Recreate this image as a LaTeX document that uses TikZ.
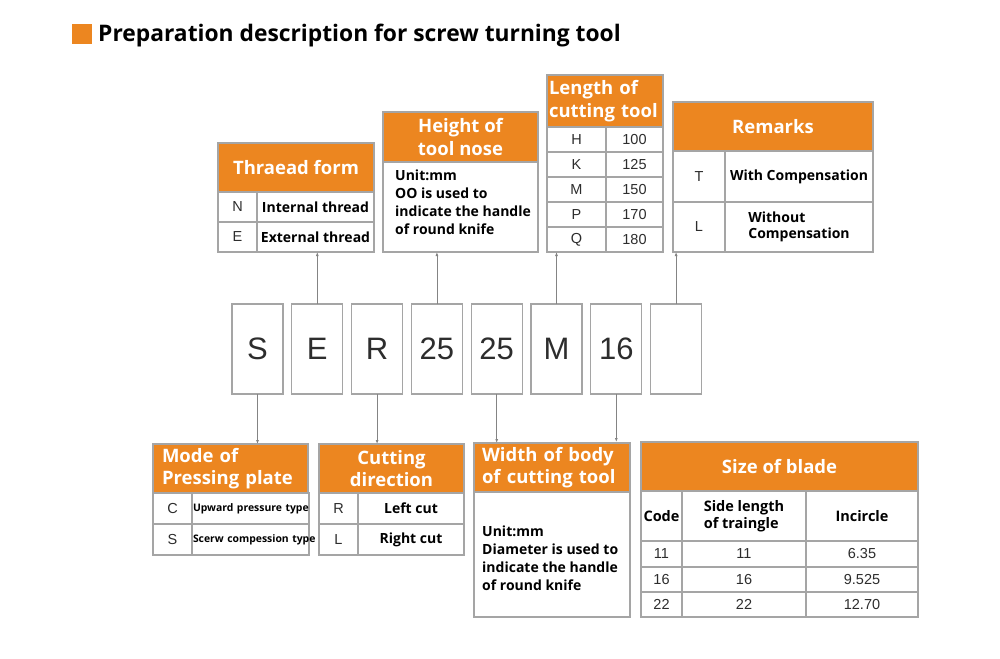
\documentclass[tikz,border=0pt]{standalone}
\usepackage{fontspec}
\setmainfont{Open Sans}
\newfontfamily\arial{Liberation Sans}
\usetikzlibrary{positioning, arrows.meta}

\definecolor{orng}{RGB}{236,134,32}
\definecolor{rule}{RGB}{165,165,165}
\definecolor{ink}{RGB}{45,45,45}

\begin{document}
\begin{tikzpicture}[
    x=1pt, y=-1pt,
    >={Latex[length=4pt,width=3pt]},
    codebox/.style={draw=rule, line width=1.2pt, fill=white, minimum width=51pt, minimum height=90pt, inner sep=0pt, outer sep=0pt, font=\arial\fontsize{31}{31}\selectfont, text=ink},
    hdr/.style={draw=rule, line width=1.2pt, fill=orng, text=white, anchor=north west, inner sep=0pt, outer sep=0pt, align=center, font=\bfseries\fontsize{18.5}{22.5}\selectfont},
    cell/.style={draw=rule, line width=1.2pt, fill=white, anchor=north west, inner sep=0pt, outer sep=0pt, text=ink, font=\arial\fontsize{14.5}{16}\selectfont},
    desc/.style={text=black, font=\bfseries\fontsize{14}{16.5}\selectfont},
    small/.style={text=black, font=\bfseries\fontsize{10.4}{12}\selectfont, text width=115pt, inner xsep=1pt, align=left},
    txt/.style={anchor=north west, align=left, inner sep=0pt, text=black, font=\bfseries\fontsize{14}{18}\selectfont},
    arr/.style={draw=rule!80!black, line width=0.8pt, ->},
]

\useasboundingbox (0,0) rectangle (1000,658);
\fill[white] (0,0) rectangle (1000,658);

% Title
\node[fill=orng, minimum width=20pt, minimum height=20pt, inner sep=0pt, anchor=north west] (mark) at (72,24) {};
\node[anchor=base west, inner sep=0pt, font=\bfseries\fontsize{22.8}{25}\selectfont] (title) at (98,42) {Preparation description for screw turning tool};

% Code boxes
\node[codebox] (cS) at (257.5,349) {S};
\node[codebox, right=8.8pt of cS] (cE) {E};
\node[codebox, right=8.8pt of cE] (cR) {R};
\node[codebox, right=8.8pt of cR] (cH) {25};
\node[codebox, right=8.8pt of cH] (cW) {25};
\node[codebox, right=8.8pt of cW] (cM) {M};
\node[codebox, right=8.8pt of cM] (cB) {16};
\node[codebox, right=8.8pt of cB] (cX) {};

% Thread form
\node[hdr, minimum width=156pt, minimum height=49pt] (thr) at (218,143) {Thraead form};
\node[cell, minimum width=39pt, minimum height=30pt] (thrN) at (218,192) {N};
\node[cell, desc, minimum width=117pt, minimum height=30pt] (thrNt) at (257,192) {Internal thread};
\node[cell, minimum width=39pt, minimum height=30pt] (thrE) at (218,222) {E};
\node[cell, desc, minimum width=117pt, minimum height=30pt] (thrEt) at (257,222) {External thread};

% Height of tool nose
\node[hdr, minimum width=155pt, minimum height=50pt] (hgt) at (383,112) {Height of\\tool nose};
\node[cell, minimum width=155pt, minimum height=90pt] (hgtb) at (383,162) {};
\node[txt] (hgtt) at (395,170) {Unit:mm\\OO is used to\\indicate the handle\\of round knife};

% Length of cutting tool
\node[hdr, minimum width=116pt, minimum height=52pt, align=left, text width=112pt, inner xsep=2pt] (len) at (547,75) {Length of\\cutting tool};
\node[cell, minimum width=59pt, minimum height=25pt] (lenH) at (547,127) {H};
\node[cell, minimum width=57pt, minimum height=25pt] (lenHv) at (606,127) {100};
\node[cell, minimum width=59pt, minimum height=25pt] (lenK) at (547,152) {K};
\node[cell, minimum width=57pt, minimum height=25pt] (lenKv) at (606,152) {125};
\node[cell, minimum width=59pt, minimum height=25pt] (lenM) at (547,177) {M};
\node[cell, minimum width=57pt, minimum height=25pt] (lenMv) at (606,177) {150};
\node[cell, minimum width=59pt, minimum height=25pt] (lenP) at (547,202) {P};
\node[cell, minimum width=57pt, minimum height=25pt] (lenPv) at (606,202) {170};
\node[cell, minimum width=59pt, minimum height=25pt] (lenQ) at (547,227) {Q};
\node[cell, minimum width=57pt, minimum height=25pt] (lenQv) at (606,227) {180};

% Remarks
\node[hdr, minimum width=200pt, minimum height=49pt] (rem) at (673,102) {Remarks};
\node[cell, minimum width=52pt, minimum height=51pt] (remT) at (673,151) {T};
\node[cell, desc, minimum width=148pt, minimum height=51pt] (remTt) at (725,151) {With Compensation};
\node[cell, minimum width=52pt, minimum height=50pt] (remL) at (673,202) {L};
\node[cell, desc, minimum width=148pt, minimum height=50pt, align=left] (remLt) at (725,202) {Without\\Compensation};

% Mode of pressing plate
\node[hdr, minimum width=155pt, minimum height=49pt, align=left, text width=137pt, inner xsep=9pt] (mode) at (153,444) {Mode of\\Pressing plate};
\node[cell, minimum width=39pt, minimum height=31pt] (modeC) at (153,493) {C};
\node[cell, small, minimum height=31pt] (modeCt) at (192,493) {\mbox{Upward pressure type}};
\node[cell, minimum width=39pt, minimum height=31pt] (modeS) at (153,524) {S};
\node[cell, small, minimum height=31pt] (modeSt) at (192,524) {\mbox{Scerw compession type}};

% Cutting direction
\node[hdr, minimum width=145pt, minimum height=49pt] (cut) at (319,444) {Cutting\\direction};
\node[cell, minimum width=39pt, minimum height=31pt] (cutR) at (319,493) {R};
\node[cell, desc, minimum width=106pt, minimum height=31pt] (cutRt) at (358,493) {Left cut};
\node[cell, minimum width=39pt, minimum height=31pt] (cutL) at (319,524) {L};
\node[cell, desc, minimum width=106pt, minimum height=31pt] (cutLt) at (358,524) {Right cut};

% Width of body of cutting tool
\node[hdr, minimum width=156pt, minimum height=49pt, align=left, text width=140pt, inner xsep=8pt] (wid) at (474,443) {Width of body\\of cutting tool};
\node[cell, minimum width=156pt, minimum height=125pt] (widb) at (474,492) {};
\node[txt] (widt) at (482,526) {Unit:mm\\Diameter is used to\\indicate the handle\\of round knife};

% Size of blade
\node[hdr, minimum width=277pt, minimum height=49pt] (siz) at (641,442) {Size of blade};
\node[cell, desc, font=\bfseries\fontsize{14.5}{17}\selectfont, minimum width=41pt, minimum height=50pt] (sizC) at (641,491) {Code};
\node[cell, desc, font=\bfseries\fontsize{14.5}{17}\selectfont, minimum width=124pt, minimum height=50pt, align=left] (sizS) at (682,491) {Side length\\of traingle};
\node[cell, desc, font=\bfseries\fontsize{14.5}{17}\selectfont, minimum width=112pt, minimum height=50pt] (sizI) at (806,491) {Incircle};
\node[cell, minimum width=41pt, minimum height=26pt] (siz1a) at (641,541) {11};
\node[cell, minimum width=124pt, minimum height=26pt] (siz1b) at (682,541) {11};
\node[cell, minimum width=112pt, minimum height=26pt] (siz1c) at (806,541) {6.35};
\node[cell, minimum width=41pt, minimum height=25pt] (siz2a) at (641,567) {16};
\node[cell, minimum width=124pt, minimum height=25pt] (siz2b) at (682,567) {16};
\node[cell, minimum width=112pt, minimum height=25pt] (siz2c) at (806,567) {9.525};
\node[cell, minimum width=41pt, minimum height=25pt] (siz3a) at (641,592) {22};
\node[cell, minimum width=124pt, minimum height=25pt] (siz3b) at (682,592) {22};
\node[cell, minimum width=112pt, minimum height=25pt] (siz3c) at (806,592) {12.70};

% Arrows up
\draw[arr] (cE.north) -- (cE.north |- thrEt.south);
\draw[arr] (cH.north) -- (cH.north |- hgtb.south);
\draw[arr] (cM.north) -- (cM.north |- lenQv.south);
\draw[arr] (cX.north) -- (cX.north |- remLt.south);

% Arrows down
\draw[arr] (cS.south) -- (cS.south |- mode.north);
\draw[arr] (cR.south) -- (cR.south |- cut.north);
\draw[arr] (cW.south) -- (cW.south |- wid.north);
\draw[arr] (cB.south) -- (cB.south |- siz.north);

\end{tikzpicture}
\end{document}
